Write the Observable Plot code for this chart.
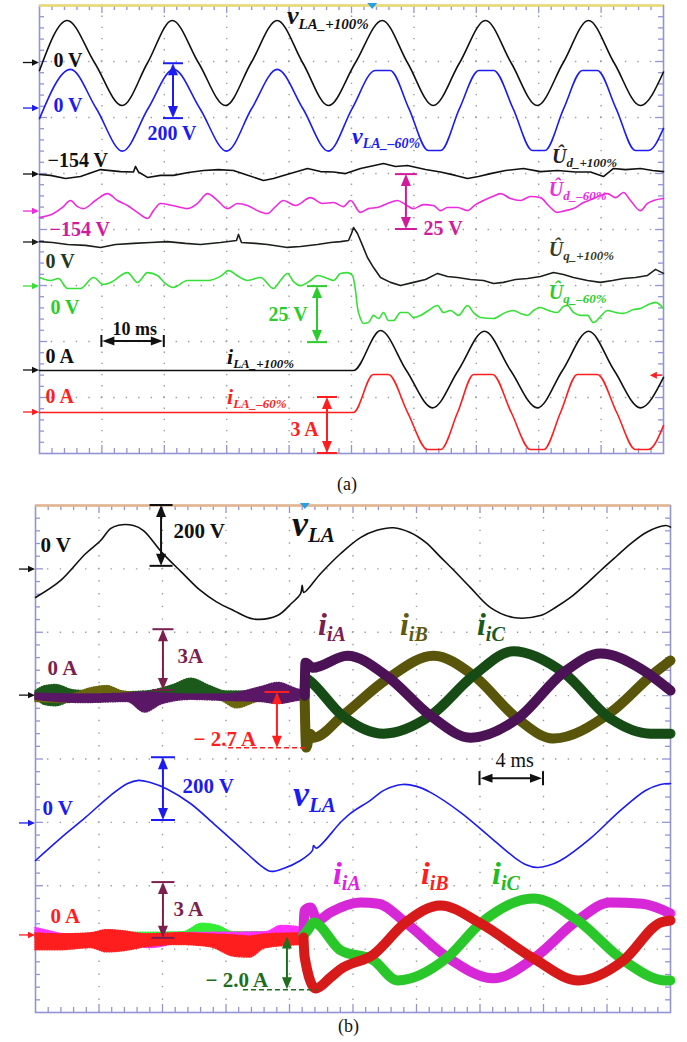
<!DOCTYPE html>
<html><head><meta charset="utf-8">
<script src="https://cdn.jsdelivr.net/npm/d3@7"></script>
<script src="https://cdn.jsdelivr.net/npm/@observablehq/plot@0.6"></script>
<style>
html,body{margin:0;padding:0;background:#fff;}
#root{position:relative;width:687px;height:1042px;overflow:hidden;background:#fff;font-family:"Liberation Serif",serif;}
#root svg{position:absolute;left:0;}
.cap{position:absolute;font-family:"Liberation Serif",serif;font-size:18px;color:#111;}
</style></head><body><div id="root"></div>
<script>
const FONT = '"Liberation Serif","Times New Roman",serif';

// ---------- Panel (a): time in ms, values in V or A ----------
const a_vLA_p100 = [[0,-27],[4.44,152],[8.85,0],[13.25,-152],[17.3,0],[21.27,152],[25.5,0],[29.8,-152],[33.9,0],[38.09,152],[42.2,0],[46.3,-152],[50.6,0],[54.92,152],[59.0,0],[63.1,-152],[67.3,0],[71.47,152],[75.6,0],[79.76,-152],[83.9,0],[87.98,152],[92.1,0],[96.3,-152],[100,-32]];
const a_vLA_m60 = [[0,-36],[4.97,140],[9.1,0],[13.3,-152],[17.4,0],[21.5,140],[25.7,0],[30,-152],[34,0],[38.1,140],[42.2,0],[46.3,-152],[50.1,0],[53.8,136],[56.2,136],[59.2,0],[62.3,-150],[64.3,-150],[67.3,0],[70.4,136],[72.8,136],[75.9,0],[79,-150],[81,-150],[84,0],[87,136],[89.4,136],[92.4,0],[95.5,-150],[97.6,-150],[100,-71]];
const a_Ud_p100 = [[0,154],[1.76,153.6],[4.17,152.2],[6.57,153.1],[9.78,156.2],[12.98,155.3],[15.06,155.1],[15.38,157.6],[15.87,155.1],[17.31,152.7],[19.39,153.6],[21.47,153.6],[23.88,154.9],[26.28,155.8],[28.69,156.2],[31.09,155.8],[33.49,153.6],[35.9,151.3],[37.5,152.2],[39.1,153.6],[41.03,155.1],[42.95,156.7],[45.03,155.3],[47.12,155.1],[49.04,154.4],[51.44,156.7],[55.13,158.9],[57.05,157.6],[58.97,158.0],[61.86,156.2],[64.26,155.1],[66.67,153.6],[68.59,152.2],[70.35,153.1],[72.28,154.4],[74.68,155.8],[77.56,156.7],[80.29,155.3],[83.01,155.8],[85.9,155.1],[88.3,155.1],[90.38,153.1],[91.99,156.7],[93.91,156.2],[96.31,156.7],[98.24,155.8],[100,155.3]];
const a_Ud_m60 = [[0,151.3],[2.24,153.1],[3.69,155.8],[4.97,158.9],[6.09,156.2],[7.05,155.3],[8.97,158.9],[10.9,162.0],[12.5,158.9],[14.1,156.7],[15.7,153.6],[17.31,150.9],[18.27,154.4],[19.39,157.6],[21.31,156.7],[23.72,155.3],[25.32,157.6],[26.92,162.0],[28.53,158.9],[30.13,155.3],[31.73,157.6],[33.33,156.7],[34.94,154.4],[36.54,153.1],[37.82,156.2],[39.1,158.9],[41.03,156.7],[43.43,160.2],[45.35,157.6],[47.12,158.0],[48.72,156.2],[49.84,158.9],[51.44,153.6],[52.72,155.3],[54.17,155.8],[55.77,157.6],[57.37,158.9],[58.65,157.1],[59.94,155.3],[61.54,157.1],[63.14,156.7],[64.26,154.4],[65.38,155.8],[66.99,155.8],[68.59,154.4],[69.87,157.1],[71.15,158.9],[72.6,160.7],[73.88,162.0],[75.48,159.8],[77.08,158.9],[78.69,160.7],[80.29,160.2],[81.57,156.7],[83.01,153.6],[84.29,154.4],[85.58,155.3],[87.18,158.0],[88.78,159.8],[89.9,161.1],[91.03,162.0],[92.31,160.2],[93.59,162.5],[94.71,158.9],[96.31,154.4],[97.44,157.6],[98.4,158.9],[100,159.8]];
const a_Uq_p100 = [[0,0.4],[2.08,0],[4.49,-0.9],[7.37,-1.3],[9.78,-2.2],[12.18,-0.9],[15.06,-0.4],[17.79,0],[20.51,0.4],[23.4,-0.4],[25.8,-0.9],[29.0,0],[31.57,0.9],[31.89,3.6],[32.37,0],[34.62,-0.4],[36.54,-0.9],[39.74,-2.2],[41.83,-1.8],[44.55,-0.9],[46.63,0],[48.24,0.4],[49.52,0.9],[50.0,4.0],[50.32,6.7],[50.96,4.0],[51.76,-1.3],[52.56,-6.7],[53.53,-11.2],[54.65,-15.6],[56.25,-17.8],[57.85,-19.2],[59.94,-17.8],[61.86,-16.5],[63.78,-13.8],[65.38,-15.2],[66.99,-15.6],[69.07,-16.5],[71.15,-17.0],[72.76,-18.3],[74.36,-17.8],[76.28,-16.5],[78.21,-16.1],[80.29,-15.2],[82.37,-13.4],[83.97,-14.3],[85.58,-15.6],[87.82,-17.0],[89.9,-17.8],[91.83,-17.0],[93.59,-16.1],[95.51,-15.6],[97.44,-14.7],[98.72,-12.0],[100,-13.8]];
const a_Uq_m60 = [[0,4.0],[1.76,2.7],[3.04,3.6],[4.49,-0.9],[6.57,-0.9],[8.65,4.0],[10.26,0.9],[11.38,1.8],[14.1,6.2],[15.71,1.8],[17.31,6.2],[18.91,4.9],[20.19,1.3],[21.47,-0.4],[23.72,2.7],[26.92,2.7],[29.0,4.5],[30.29,7.1],[31.89,4.5],[33.33,2.7],[35.42,4.0],[37.5,-0.9],[38.62,2.7],[39.74,5.8],[40.71,2.2],[41.83,0.4],[43.43,2.7],[44.55,4.9],[46.15,3.6],[47.12,2.7],[48.24,5.8],[49.36,6.2],[50.16,4.9],[50.64,-1.8],[50.96,-9.4],[51.44,-14.3],[51.92,-16.5],[52.72,-16.1],[53.53,-12.9],[54.33,-14.3],[55.13,-11.6],[55.93,-15.2],[56.73,-15.2],[57.85,-11.6],[58.97,-11.6],[59.94,-13.8],[61.06,-12.9],[62.34,-10.7],[63.78,-8.5],[64.74,-11.6],[65.87,-10.7],[67.15,-12.9],[68.59,-8.5],[69.55,-11.6],[70.67,-13.8],[72.76,-14.3],[74.36,-12.0],[75.96,-10.7],[77.08,-12.0],[78.21,-12.9],[79.17,-10.7],[80.29,-9.4],[81.57,-10.7],[83.01,-11.6],[83.97,-8.9],[84.62,-8.5],[85.58,-11.6],[86.7,-12.9],[87.82,-12.9],[88.78,-16.1],[89.9,-13.4],[91.03,-10.7],[92.31,-11.6],[93.59,-12.0],[95.19,-10.3],[96.31,-9.8],[97.6,-8.0],[98.72,-7.1],[100,-9.8]];
const a_iLA_p100 = [[0,0],[50.3,0],[54.65,2.14],[58.8,0],[63.0,-2.0],[67.1,0],[71.3,2.1],[75.5,0],[79.8,-2.0],[83.8,0],[88.0,2.1],[92.1,0],[96.3,-2.0],[100,-0.37]];
const a_iLA_m60 = [[0,0],[50.3,0],[53.5,2.04],[55.9,2.04],[59.0,0],[62.2,-1.98],[64.3,-1.98],[67.0,0],[69.6,2.04],[72.6,2.04],[75.6,0],[78.7,-1.98],[80.8,-1.98],[83.5,0],[86.2,2.04],[89.4,2.04],[92.5,0],[95.5,-1.98],[97.6,-1.98],[100,-0.7]];

// ---------- Panel (b) ----------
const b_vLA_1 = [[0,-88],[1.57,-35],[3.15,50],[4.09,91],[4.72,129],[5.23,140],[6.17,139],[6.8,123],[8.0,52],[9.2,-8],[10.39,-66],[11.4,-102],[12.47,-129],[13.73,-156],[15.24,-145],[16.1,-108],[16.7,-76],[16.8,-50],[16.9,-72],[17.95,-13],[19.21,50],[20.47,101],[21.5,124],[22.55,132],[23.6,117],[24.6,85],[25.5,40],[26.5,-10],[27.4,-57],[28.66,-120],[30.1,-151],[31.8,-145],[32.8,-118],[33.7,-88],[34.7,-45],[35.6,-3],[36.6,42],[37.5,82],[38.5,118],[39.7,139],[40,134]];
const b_vLA_2 = [[0,-117],[1.57,-47],[3.15,19],[4.72,88],[5.8,126],[6.49,136],[7.24,129],[8.31,108],[9.76,63],[11.34,-6],[12.91,-76],[14.17,-132],[14.8,-151],[15.62,-142],[16.69,-117],[17.45,-85],[17.51,-70],[17.7,-78],[19.21,3],[19.84,32],[21.1,73],[22.0,106],[23.12,123],[24.0,117],[24.88,98],[26.77,35],[28.66,-44],[30.24,-110],[30.9,-130],[31.62,-139],[32.3,-133],[33.07,-117],[34.96,-47],[36.85,41],[38.43,104],[39.37,123],[40,126]];
// currents before the step: [t, low, high] envelope in A
const b_iA1_pre = [[0,-0.2,0.1],[3,-0.35,0.05],[5.8,-0.3,0.1],[6.9,-0.8,0.15],[8,-0.4,0.1],[9.8,-0.2,0.05],[12,-0.25,0.05],[14.2,-0.3,0.4],[15.3,-0.4,0.6],[16.5,-0.25,0.3],[16.95,-0.2,0.2]];
const b_iB1_pre = [[0,-0.3,-0.05],[2,-0.35,0],[3.5,-0.1,0.35],[4.5,-0.05,0.45],[5.5,-0.05,0.2],[8,-0.1,0.05],[11.5,-0.2,0],[12.7,-0.6,0],[14,-0.3,0],[16.95,-0.1,0.05]];
const b_iC1_pre = [[0,-0.1,0.2],[0.63,-0.45,0.45],[1.3,-0.5,0.5],[2.4,-0.2,0.25],[3.5,0,0.2],[5,0,0.15],[7,0,0.2],[8.7,0.05,0.5],[9.8,0.05,0.8],[11,0.05,0.45],[12,0.05,0.2],[14,0,0.2],[16.95,0,0.2]];
const b_iA1 = [[16.95,0],[17.01,1.56],[17.45,1.32],[19.65,1.89],[22.17,0.9],[24.88,-0.95],[27.4,-1.99],[30.36,-1.09],[33.26,1.09],[35.59,1.99],[38.11,1.28],[40,0.24]];
const b_iB1 = [[16.95,0],[17.05,-2.46],[17.3,-1.8],[17.51,-1.99],[19.34,-0.95],[22.17,0.8],[25.07,1.89],[27.59,0.95],[30.36,-1.09],[32.6,-2.03],[36.22,-0.8],[38.87,1.0],[40,1.66]];
const b_iC1 = [[16.95,0],[17.0,0.85],[17.2,0.75],[19.34,-0.95],[21.92,-1.8],[24.88,-0.95],[27.59,0.95],[30.1,2.1],[33.26,1.09],[36.22,-1.09],[38.74,-1.8],[40,-1.8]];
const b_iA2_pre = [[0,-0.1,0.35],[0.6,-0.05,0.25],[2,-0.1,0.05],[6,-0.1,0.1],[7,-0.6,0.05],[8.2,-0.5,0.05],[9,-0.1,0.1],[14.5,-0.05,0.15],[15.5,0,0.45],[16.5,0,0.4],[16.9,0,0.2]];
const b_iB2_pre = [[0,-0.7,0.1],[1.5,-0.7,0.05],[3.5,-0.6,0.1],[4.5,-0.8,0.25],[5.5,-0.75,0.2],[7,-0.55,0.05],[9,-0.45,0.1],[11,-0.55,0.05],[12.5,-1.0,0],[13.5,-1.05,-0.05],[14.5,-0.6,0.05],[16.9,-0.45,0.1]];
const b_iC2_pre = [[0,-0.1,0.1],[1.8,-0.6,0.05],[3,-0.6,0.05],[4,-0.1,0.1],[9.3,-0.05,0.15],[10.5,0,0.55],[11.5,0,0.45],[12.5,-0.05,0.15],[16.9,-0.05,0.15]];
const b_iA2 = [[16.88,0.1],[16.95,1.18],[17.32,1.32],[17.76,0.71],[18.58,1.09],[20.47,1.56],[21.6,1.5],[23.31,0.61],[25.95,-1.04],[28.85,-2.03],[31.37,-1.09],[34.14,0.71],[36.2,1.56],[38.2,1.5],[40,1.04]];
const b_iB2 = [[16.88,-0.1],[16.95,-1.0],[17.64,-2.51],[18.58,-1.99],[19.21,-1.6],[21.29,-0.9],[23.31,0.61],[25.51,1.42],[28.03,0.57],[31.37,-1.09],[34.2,-2.13],[37.04,-1.18],[39.37,0.61],[40,0.71]];
const b_iC2 = [[16.88,0],[17.2,0.3],[17.51,0.61],[19.21,-0.7],[21.29,-1.18],[22.8,-2.13],[25.95,-1.04],[28.03,0.57],[31.37,1.75],[34.14,0.71],[37.04,-1.18],[39.69,-2.13],[40,-2.13]];

// ---------- colours ----------
const BLACK="#111111", BLUE="#1c1cf0", MAG="#ee2ade", MAGTXT="#d01c9c", DKG_TXT="#1f3a1f", GREEN="#36e036", GREENTXT="#2ccc2c", RED="#ff1e1e";
const PURPLE="#5a1766", OLIVE="#6a660c", DKGREEN="#1b5a1b", MAROON="#7a1f4e", BMAG="#ff30ff", BGREEN="#33ee33", DKGREEN2="#1e6e1e";

// ---------- oscilloscope channel settings (offset in divisions, base, units/div) ----------
const chA = {
  vLA_p100:{offset:2.973,base:0,scale:200,color:BLACK},
  vLA_m60:{offset:2.16,base:0,scale:200,color:BLUE},
  Ud_p100:{offset:0.982,base:154,scale:25,color:BLACK},
  Ud_m60:{offset:0.321,base:154,scale:25,color:MAG},
  Uq_p100:{offset:-0.232,base:0,scale:25,color:"#1a1f1a"},
  Uq_m60:{offset:-1.018,base:0,scale:25,color:GREEN},
  iLA_p100:{offset:-2.518,base:0,scale:3,color:BLACK},
  iLA_m60:{offset:-3.268,base:0,scale:3,color:RED}
};
const chB = {
  v1:{offset:2.989,base:0,scale:200,color:BLACK},
  i1:{offset:1.0,base:0,scale:3,color:BLACK},
  v2:{offset:-1.017,base:0,scale:200,color:BLUE},
  i2:{offset:-2.784,base:0,scale:3,color:RED}
};

// ---------- annotations (t in ms, d in divisions) ----------
const labelsA = [
  {t:2.24,d:2.91,s:"0 V",c:BLACK},{t:2.24,d:2.09,s:"0 V",c:BLUE},{t:17.3,d:1.59,s:"200 V",c:BLUE},
  {t:1.28,d:1.11,s:"\u2212154 V",c:BLACK},{t:1.6,d:-0.11,s:"\u2212154 V",c:MAGTXT},{t:61.54,d:-0.09,s:"25 V",c:MAGTXT},
  {t:0.96,d:-0.68,s:"0 V",c:DKG_TXT},{t:1.76,d:-1.5,s:"0 V",c:GREENTXT},{t:36.7,d:-1.63,s:"25 V",c:GREENTXT},
  {t:11.7,d:-1.89,s:"10 ms",c:BLACK,z:18},{t:0.96,d:-2.38,s:"0 A",c:BLACK},{t:0.96,d:-3.09,s:"0 A",c:RED},{t:40.22,d:-3.68,s:"3 A",c:RED}
];
const richA = [
  {t:39.74,d:3.66,m:"v",sub:"LA_+100%",c:BLACK,z:26,sz:15},
  {t:50.16,d:1.52,m:"v",sub:"LA_\u201360%",c:BLUE,z:24,sz:14},
  {t:82.2,d:1.18,m:"\u00DB",sub:"d_+100%",c:"#222",z:20,sz:13},
  {t:81.7,d:0.59,m:"\u00DB",sub:"d_\u201360%",c:MAG,z:20,sz:13},
  {t:81.7,d:-0.48,m:"\u00DB",sub:"q_+100%",c:"#3a3a22",z:20,sz:13},
  {t:81.7,d:-1.25,m:"\u00DB",sub:"q_\u201360%",c:GREENTXT,z:20,sz:13},
  {t:30.13,d:-2.41,m:"i",sub:"LA_+100%",c:BLACK,z:22,sz:13},
  {t:30.13,d:-3.13,m:"i",sub:"LA_\u201360%",c:RED,z:22,sz:13}
];
const vArrowsA = [
  {t:21.47,d1:2.96,d2:1.98,c:BLUE,cap:10},{t:58.8,d1:0.98,d2:0.0,c:MAGTXT,cap:11},
  {t:44.55,d1:-1.02,d2:-2.02,c:GREENTXT,cap:10},{t:46.15,d1:-3.0,d2:-4.0,c:RED,cap:10}
];
const hArrowsA = [{d:-2.0,t1:10,t2:20,c:BLACK,cap:6}];
const labelsB = [
  {t:0.31,d:3.26,s:"0 V",c:BLACK},{t:8.69,d:3.49,s:"200 V",c:BLACK},{t:0.76,d:1.32,s:"0 A",c:MAROON},
  {t:8.94,d:1.51,s:"3A",c:MAROON},{t:9.95,d:0.21,s:"\u2212 2.7 A",c:RED},
  {t:0.44,d:-0.89,s:"0 V",c:BLUE},{t:9.26,d:-0.53,s:"200 V",c:BLUE},{t:0.94,d:-2.58,s:"0 A",c:RED},
  {t:8.69,d:-2.47,s:"3 A",c:MAROON},{t:10.71,d:-3.6,s:"\u2212 2.0 A",c:DKGREEN2}
];
const labelsBthin = [{t:28.98,d:-0.13,s:"4 ms",c:BLACK}];
const richB = [
  {t:16.19,d:3.51,m:"v",sub:"LA",c:BLACK,z:36,sz:21},
  {t:16.25,d:-0.75,m:"v",sub:"LA",c:BLUE,z:36,sz:21},
  {t:17.83,d:1.95,m:"i",sub:"iA",c:"#7a2050",z:32,sz:20},
  {t:22.99,d:1.95,m:"i",sub:"iB",c:"#5f5a10",z:32,sz:20},
  {t:27.84,d:1.95,m:"i",sub:"iC",c:DKGREEN,z:32,sz:20},
  {t:18.77,d:-1.98,m:"i",sub:"iA",c:"#e020e0",z:32,sz:20},
  {t:24.31,d:-1.98,m:"i",sub:"iB",c:RED,z:32,sz:20},
  {t:28.79,d:-1.98,m:"i",sub:"iC",c:"#22bb22",z:32,sz:20}
];
const vArrowsB = [
  {t:7.94,d1:4.0,d2:3.04,c:BLACK,cap:11.5},{t:8.06,d1:2.04,d2:1.08,c:MAROON,cap:10.5},
  {t:15.24,d1:1.05,d2:0.17,c:RED,cap:12.5,noBottom:true},{t:8.06,d1:0.02,d2:-0.97,c:BLUE,cap:12},
  {t:8.06,d1:-1.95,d2:-2.83,c:MAROON,cap:11.5},{t:15.87,d1:-2.81,d2:-3.64,c:DKGREEN2,cap:0}
];
const dashesB = [{d:0.17,t1:12.16,t2:17.07,c:RED},{d:-3.65,t1:13.1,t2:17.83,c:DKGREEN2}];
const hArrowsB = [{d:-0.31,t1:28,t2:32,c:BLACK,cap:7}];

// ---------- helpers ----------
const toDiv = (data, ch) => data.map(([t, v]) => ({t, y: ch.offset + (v - ch.base) / ch.scale}));
const toBand = (data, ch) => data.map(([t, lo, hi]) => ({t, y1: ch.offset + lo / ch.scale, y2: ch.offset + hi / ch.scale}));

function gridMarks(cfg) {
  const [t0, t1] = cfg.xDomain;
  const iw = cfg.width - cfg.ml - cfg.mr, ih = cfg.height - cfg.mt - cfg.mb;
  const tpp = (t1 - t0) / iw, dpp = 8 / ih;
  const dotH = iw / 50, dotV = ih / 40;
  const divX = d3.range(1, 10).map(i => t0 + i * (t1 - t0) / 10);
  const divY = d3.range(-3, 4);
  const tx = d3.range(1, 50).map(i => ({v: t0 + i * (t1 - t0) / 50, L: i % 5 === 0 ? 8 : 5}));
  const ty = d3.range(1, 40).map(i => ({v: -4 + i * 8 / 40, L: i % 5 === 0 ? 8 : 5}));
  const fc = "#9494d4";
  return [
    Plot.ruleX(divX, {stroke: "#9c9c9c", strokeWidth: 1.4, strokeDasharray: `1.4 ${dotV - 1.4}`, strokeDashoffset: 0.7}),
    Plot.ruleY(divY, {stroke: "#9c9c9c", strokeWidth: 1.4, strokeDasharray: `1.4 ${dotH - 1.4}`, strokeDashoffset: 0.7}),
    Plot.ruleX(tx, {x: "v", y1: 4, y2: d => 4 - d.L * dpp, stroke: fc, strokeWidth: 1.3}),
    Plot.ruleX(tx, {x: "v", y1: -4, y2: d => -4 + d.L * dpp, stroke: fc, strokeWidth: 1.3}),
    Plot.ruleY(ty, {y: "v", x1: t0, x2: d => t0 + d.L * tpp, stroke: fc, strokeWidth: 1.3}),
    Plot.ruleY(ty, {y: "v", x1: t1, x2: d => t1 - d.L * tpp, stroke: fc, strokeWidth: 1.3}),
    Plot.frame({stroke: fc, strokeWidth: 1.6}),
    Plot.ruleY([4], {stroke: cfg.topColor, strokeWidth: 2.6})
  ];
}

function textMarks(list, size, weight) {
  return Plot.text(list, {x: "t", y: "d", text: "s", fill: "c", fontSize: d => d.z || size,
    fontWeight: weight, fontFamily: FONT, textAnchor: "start", lineAnchor: "bottom"});
}

function decorate(svg, cfg, rich, vArrows, hArrows, dashes, markers, extras) {
  const sx = svg.scale("x"), sy = svg.scale("y");
  const X = v => sx.apply(v), Y = v => sy.apply(v);
  const g = d3.select(svg).append("g");
  for (const a of dashes) {
    g.append("line").attr("x1", X(a.t1)).attr("x2", X(a.t2)).attr("y1", Y(a.d)).attr("y2", Y(a.d))
      .attr("stroke", a.c).attr("stroke-width", 1.6).attr("stroke-dasharray", "5 3");
  }
  for (const a of vArrows) {
    const x = X(a.t), y1 = Y(a.d1), y2 = Y(a.d2), h = 12, w = 5;
    g.append("line").attr("x1", x).attr("x2", x).attr("y1", y1 + h - 1).attr("y2", y2 - h + 1).attr("stroke", a.c).attr("stroke-width", 2);
    g.append("path").attr("d", `M${x},${y1}L${x - w},${y1 + h}L${x + w},${y1 + h}Z`).attr("fill", a.c);
    g.append("path").attr("d", `M${x},${y2}L${x - w},${y2 - h}L${x + w},${y2 - h}Z`).attr("fill", a.c);
    if (a.cap > 0) {
      g.append("line").attr("x1", x - a.cap).attr("x2", x + a.cap).attr("y1", y1).attr("y2", y1).attr("stroke", a.c).attr("stroke-width", 2);
      if (!a.noBottom) g.append("line").attr("x1", x - a.cap).attr("x2", x + a.cap).attr("y1", y2).attr("y2", y2).attr("stroke", a.c).attr("stroke-width", 2);
    }
  }
  for (const a of hArrows) {
    const y = Y(a.d), x1 = X(a.t1), x2 = X(a.t2), h = 13, w = 4.5;
    g.append("line").attr("x1", x1 + h - 1).attr("x2", x2 - h + 1).attr("y1", y).attr("y2", y).attr("stroke", a.c).attr("stroke-width", 2);
    g.append("path").attr("d", `M${x1 + 1},${y}L${x1 + h},${y - w}L${x1 + h},${y + w}Z`).attr("fill", a.c);
    g.append("path").attr("d", `M${x2 - 1},${y}L${x2 - h},${y - w}L${x2 - h},${y + w}Z`).attr("fill", a.c);
    g.append("line").attr("x1", x1).attr("x2", x1).attr("y1", y - a.cap).attr("y2", y + a.cap).attr("stroke", a.c).attr("stroke-width", 2);
    g.append("line").attr("x1", x2).attr("x2", x2).attr("y1", y - a.cap).attr("y2", y + a.cap).attr("stroke", a.c).attr("stroke-width", 2);
  }
  const x0 = X(cfg.xDomain[0]);
  for (const m of markers) {
    const y = Y(m.offset);
    g.append("line").attr("x1", x0 - 16).attr("x2", x0 - 5).attr("y1", y).attr("y2", y).attr("stroke", m.color).attr("stroke-width", 1.3);
    g.append("path").attr("d", `M${x0},${y}L${x0 - 7},${y - 3.2}L${x0 - 7},${y + 3.2}Z`).attr("fill", m.color);
  }
  const tx = X(cfg.trigger), ty = Y(4);
  g.append("path").attr("d", `M${tx - 5},${ty - 2}L${tx + 5},${ty - 2}L${tx},${ty + 4}Z`).attr("fill", "#2a9fe6");
  if (extras) extras(g, X, Y);
  const tg = g.append("g").attr("font-family", FONT).attr("font-weight", "bold").attr("font-style", "italic").attr("text-anchor", "start");
  for (const L of rich) {
    const t = tg.append("text").attr("x", X(L.t)).attr("y", Y(L.d)).attr("fill", L.c).attr("text-anchor", "start");
    t.append("tspan").attr("font-size", L.z).text(L.m);
    t.append("tspan").attr("font-size", L.sz).attr("dy", L.sz * 0.3).text(L.sub);
  }
}

const root = document.getElementById("root");

// ---------- panel (a) ----------
const cfgA = {width: 687, height: 470, top: 0, ml: 39, mr: 24, mt: 5, mb: 17, xDomain: [0, 100], topColor: "#e9dc72", trigger: 53.4};
const lineA = (data, ch, curve) => Plot.line(toDiv(data, ch), {x: "t", y: "y", stroke: ch.color, strokeWidth: 1.6, curve});
const svgA = Plot.plot({
  width: cfgA.width, height: cfgA.height, marginLeft: cfgA.ml, marginRight: cfgA.mr, marginTop: cfgA.mt, marginBottom: cfgA.mb,
  x: {domain: cfgA.xDomain, axis: null}, y: {domain: [-4, 4], axis: null}, color: {type: "identity"},
  style: {background: "transparent", overflow: "visible"},
  marks: [
    ...gridMarks(cfgA),
    lineA(a_vLA_p100, chA.vLA_p100, "monotone-x"),
    lineA(a_vLA_m60, chA.vLA_m60, "monotone-x"),
    lineA(a_Ud_p100, chA.Ud_p100, "linear"),
    lineA(a_Ud_m60, chA.Ud_m60, "monotone-x"),
    lineA(a_Uq_p100, chA.Uq_p100, "linear"),
    lineA(a_Uq_m60, chA.Uq_m60, "monotone-x"),
    lineA(a_iLA_p100, chA.iLA_p100, "monotone-x"),
    lineA(a_iLA_m60, chA.iLA_m60, "monotone-x"),
    textMarks(labelsA, 20, "bold")
  ]
});
svgA.style.top = cfgA.top + "px";
root.appendChild(svgA);
decorate(svgA, cfgA, richA, vArrowsA, hArrowsA, [], Object.values(chA), (g, X, Y) => {
  const y = Y(-2.61), x1 = X(97.9), x2 = X(99.8);
  g.append("line").attr("x1", x1 + 5).attr("x2", x2).attr("y1", y).attr("y2", y).attr("stroke", RED).attr("stroke-width", 1.4);
  g.append("path").attr("d", `M${x1},${y}L${x1 + 7},${y - 3.5}L${x1 + 7},${y + 3.5}Z`).attr("fill", RED);
});

// ---------- panel (b) ----------
const cfgB = {width: 687, height: 535, top: 490, ml: 35, mr: 17, mt: 15, mb: 13, xDomain: [0, 40], topColor: "#e4b68c", trigger: 17.0};
const band = (data, ch, color) => [
  Plot.areaY(toBand(data, ch), {x: "t", y1: "y1", y2: "y2", fill: color, curve: "monotone-x"}),
  Plot.areaY(toBand(data, ch), {x: "t", y1: "y1", y2: "y2", fill: "none", stroke: color, strokeWidth: 1.5, strokeDasharray: "1 1.5", curve: "monotone-x"})
];
const thick = (data, ch, color) => [
  Plot.line(toDiv(data, ch), {x: "t", y: "y", stroke: color, strokeWidth: 10, curve: "monotone-x"}),
  Plot.line(toDiv(data, ch), {x: "t", y: "y", stroke: "#000000", strokeOpacity: 0.16, strokeWidth: 10, strokeDasharray: "1 2", curve: "monotone-x"})
];
const svgB = Plot.plot({
  width: cfgB.width, height: cfgB.height, marginLeft: cfgB.ml, marginRight: cfgB.mr, marginTop: cfgB.mt, marginBottom: cfgB.mb,
  x: {domain: cfgB.xDomain, axis: null}, y: {domain: [-4, 4], axis: null}, color: {type: "identity"},
  style: {background: "transparent", overflow: "visible"},
  marks: [
    ...gridMarks(cfgB),
    Plot.line(toDiv(b_vLA_1, chB.v1), {x: "t", y: "y", stroke: BLACK, strokeWidth: 1.6, curve: "catmull-rom"}),
    ...band(b_iC1_pre, chB.i1, DKGREEN), ...band(b_iB1_pre, chB.i1, OLIVE), ...band(b_iA1_pre, chB.i1, PURPLE),
    ...thick(b_iB1, chB.i1, OLIVE), ...thick(b_iC1, chB.i1, DKGREEN), ...thick(b_iA1, chB.i1, PURPLE),
    Plot.line(toDiv(b_vLA_2, chB.v2), {x: "t", y: "y", stroke: BLUE, strokeWidth: 1.6, curve: "catmull-rom"}),
    ...band(b_iC2_pre, chB.i2, BGREEN), ...band(b_iA2_pre, chB.i2, BMAG), ...band(b_iB2_pre, chB.i2, RED),
    ...thick(b_iA2, chB.i2, BMAG), ...thick(b_iC2, chB.i2, BGREEN), ...thick(b_iB2, chB.i2, RED),
    textMarks(labelsB, 21, "bold"),
    textMarks(labelsBthin, 20, "normal")
  ]
});
svgB.style.top = cfgB.top + "px";
root.appendChild(svgB);
decorate(svgB, cfgB, richB, vArrowsB, hArrowsB, dashesB, Object.values(chB));

// ---------- captions ----------
for (const [txt, left, top] of [["(a)", 337, 474], ["(b)", 338, 1016]]) {
  const d = document.createElement("div");
  d.className = "cap"; d.textContent = txt; d.style.left = left + "px"; d.style.top = top + "px";
  root.appendChild(d);
}
</script></body></html>
